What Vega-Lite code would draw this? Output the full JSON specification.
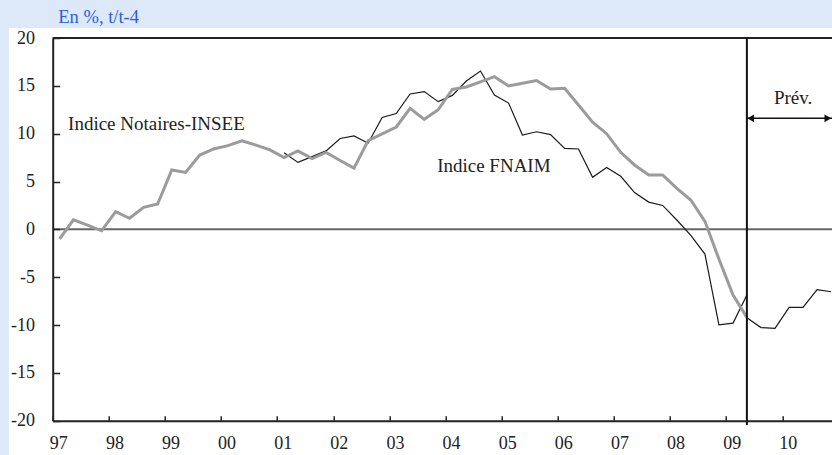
{
  "$schema": "https://vega.github.io/schema/vega-lite/v6.json",
  "width": 779.3,
  "height": 382.7,
  "autosize": {"type": "none"},
  "padding": {"left": 52.7, "top": 38, "right": 0, "bottom": 34.3},
  "background": "#dde9f8",
  "config": {"view": {"stroke": null}, "font": "Liberation Serif"},
  "title": {"text": "En %, t/t-4", "anchor": "start", "frame": "group", "dx": 5.6, "offset": 1, "font": "Liberation Serif", "fontSize": 18.5, "fontWeight": "normal", "color": "#2b5fd8"},
  "data": {"values": [
    {"date": "1997-02-15", "serie": "Notaires-INSEE", "valeur": -1.0},
    {"date": "1997-05-16", "serie": "Notaires-INSEE", "valeur": 1.0},
    {"date": "1997-08-16", "serie": "Notaires-INSEE", "valeur": 0.45},
    {"date": "1997-11-15", "serie": "Notaires-INSEE", "valeur": -0.15},
    {"date": "1998-02-15", "serie": "Notaires-INSEE", "valeur": 1.85},
    {"date": "1998-05-16", "serie": "Notaires-INSEE", "valeur": 1.16},
    {"date": "1998-08-16", "serie": "Notaires-INSEE", "valeur": 2.3},
    {"date": "1998-11-15", "serie": "Notaires-INSEE", "valeur": 2.65},
    {"date": "1999-02-15", "serie": "Notaires-INSEE", "valeur": 6.2},
    {"date": "1999-05-16", "serie": "Notaires-INSEE", "valeur": 5.95},
    {"date": "1999-08-16", "serie": "Notaires-INSEE", "valeur": 7.77},
    {"date": "1999-11-15", "serie": "Notaires-INSEE", "valeur": 8.4},
    {"date": "2000-02-15", "serie": "Notaires-INSEE", "valeur": 8.75},
    {"date": "2000-05-16", "serie": "Notaires-INSEE", "valeur": 9.25},
    {"date": "2000-08-16", "serie": "Notaires-INSEE", "valeur": 8.8},
    {"date": "2000-11-15", "serie": "Notaires-INSEE", "valeur": 8.3},
    {"date": "2001-02-15", "serie": "Notaires-INSEE", "valeur": 7.5},
    {"date": "2001-05-16", "serie": "Notaires-INSEE", "valeur": 8.2},
    {"date": "2001-08-16", "serie": "Notaires-INSEE", "valeur": 7.4},
    {"date": "2001-11-15", "serie": "Notaires-INSEE", "valeur": 8.05},
    {"date": "2002-02-15", "serie": "Notaires-INSEE", "valeur": 7.2},
    {"date": "2002-05-16", "serie": "Notaires-INSEE", "valeur": 6.4},
    {"date": "2002-08-16", "serie": "Notaires-INSEE", "valeur": 9.27},
    {"date": "2002-11-15", "serie": "Notaires-INSEE", "valeur": 9.97},
    {"date": "2003-02-15", "serie": "Notaires-INSEE", "valeur": 10.7},
    {"date": "2003-05-16", "serie": "Notaires-INSEE", "valeur": 12.65},
    {"date": "2003-08-16", "serie": "Notaires-INSEE", "valeur": 11.5},
    {"date": "2003-11-15", "serie": "Notaires-INSEE", "valeur": 12.5},
    {"date": "2004-02-15", "serie": "Notaires-INSEE", "valeur": 14.62},
    {"date": "2004-05-16", "serie": "Notaires-INSEE", "valeur": 14.88},
    {"date": "2004-08-16", "serie": "Notaires-INSEE", "valeur": 15.42},
    {"date": "2004-11-15", "serie": "Notaires-INSEE", "valeur": 15.96},
    {"date": "2005-02-15", "serie": "Notaires-INSEE", "valeur": 14.98},
    {"date": "2005-05-16", "serie": "Notaires-INSEE", "valeur": 15.28},
    {"date": "2005-08-16", "serie": "Notaires-INSEE", "valeur": 15.55},
    {"date": "2005-11-15", "serie": "Notaires-INSEE", "valeur": 14.67},
    {"date": "2006-02-15", "serie": "Notaires-INSEE", "valeur": 14.74},
    {"date": "2006-05-16", "serie": "Notaires-INSEE", "valeur": 13.0},
    {"date": "2006-08-16", "serie": "Notaires-INSEE", "valeur": 11.2},
    {"date": "2006-11-15", "serie": "Notaires-INSEE", "valeur": 10.0},
    {"date": "2007-02-15", "serie": "Notaires-INSEE", "valeur": 8.05},
    {"date": "2007-05-16", "serie": "Notaires-INSEE", "valeur": 6.73},
    {"date": "2007-08-16", "serie": "Notaires-INSEE", "valeur": 5.68},
    {"date": "2007-11-15", "serie": "Notaires-INSEE", "valeur": 5.68},
    {"date": "2008-02-15", "serie": "Notaires-INSEE", "valeur": 4.29},
    {"date": "2008-05-16", "serie": "Notaires-INSEE", "valeur": 3.07},
    {"date": "2008-08-16", "serie": "Notaires-INSEE", "valeur": 0.84},
    {"date": "2008-11-15", "serie": "Notaires-INSEE", "valeur": -3.1},
    {"date": "2009-02-15", "serie": "Notaires-INSEE", "valeur": -6.86},
    {"date": "2009-05-16", "serie": "Notaires-INSEE", "valeur": -9.2},
    {"date": "2001-02-15", "serie": "FNAIM", "valeur": 8.0},
    {"date": "2001-05-16", "serie": "FNAIM", "valeur": 7.0},
    {"date": "2001-08-16", "serie": "FNAIM", "valeur": 7.6},
    {"date": "2001-11-15", "serie": "FNAIM", "valeur": 8.2},
    {"date": "2002-02-15", "serie": "FNAIM", "valeur": 9.5},
    {"date": "2002-05-16", "serie": "FNAIM", "valeur": 9.76},
    {"date": "2002-08-16", "serie": "FNAIM", "valeur": 9.0},
    {"date": "2002-11-15", "serie": "FNAIM", "valeur": 11.7},
    {"date": "2003-02-15", "serie": "FNAIM", "valeur": 12.1},
    {"date": "2003-05-16", "serie": "FNAIM", "valeur": 14.15},
    {"date": "2003-08-16", "serie": "FNAIM", "valeur": 14.4},
    {"date": "2003-11-15", "serie": "FNAIM", "valeur": 13.35},
    {"date": "2004-02-15", "serie": "FNAIM", "valeur": 14.0},
    {"date": "2004-05-16", "serie": "FNAIM", "valeur": 15.5},
    {"date": "2004-08-16", "serie": "FNAIM", "valeur": 16.55},
    {"date": "2004-11-15", "serie": "FNAIM", "valeur": 14.04},
    {"date": "2005-02-15", "serie": "FNAIM", "valeur": 13.2},
    {"date": "2005-05-16", "serie": "FNAIM", "valeur": 9.86},
    {"date": "2005-08-16", "serie": "FNAIM", "valeur": 10.2},
    {"date": "2005-11-15", "serie": "FNAIM", "valeur": 9.9},
    {"date": "2006-02-15", "serie": "FNAIM", "valeur": 8.47},
    {"date": "2006-05-16", "serie": "FNAIM", "valeur": 8.4},
    {"date": "2006-08-16", "serie": "FNAIM", "valeur": 5.44},
    {"date": "2006-11-15", "serie": "FNAIM", "valeur": 6.47},
    {"date": "2007-02-15", "serie": "FNAIM", "valeur": 5.55},
    {"date": "2007-05-16", "serie": "FNAIM", "valeur": 3.85},
    {"date": "2007-08-16", "serie": "FNAIM", "valeur": 2.85},
    {"date": "2007-11-15", "serie": "FNAIM", "valeur": 2.5},
    {"date": "2008-02-15", "serie": "FNAIM", "valeur": 0.98},
    {"date": "2008-05-16", "serie": "FNAIM", "valeur": -0.63},
    {"date": "2008-08-16", "serie": "FNAIM", "valeur": -2.58},
    {"date": "2008-11-15", "serie": "FNAIM", "valeur": -9.99},
    {"date": "2009-02-15", "serie": "FNAIM", "valeur": -9.8},
    {"date": "2009-05-16", "serie": "FNAIM", "valeur": -6.86},
    {"date": "2009-05-16", "serie": "Prévision", "valeur": -9.25},
    {"date": "2009-08-16", "serie": "Prévision", "valeur": -10.27},
    {"date": "2009-11-15", "serie": "Prévision", "valeur": -10.35},
    {"date": "2010-02-15", "serie": "Prévision", "valeur": -8.16},
    {"date": "2010-05-16", "serie": "Prévision", "valeur": -8.16},
    {"date": "2010-08-16", "serie": "Prévision", "valeur": -6.3},
    {"date": "2010-11-15", "serie": "Prévision", "valeur": -6.52}
  ]},
  "layer": [
    {
      "data": {"values": [{}]},
      "mark": {"type": "rect", "color": "#ffffff"},
      "encoding": {
        "x": {"datum": {"year": 1996, "month": 3, "date": 22}, "type": "temporal"},
        "x2": {"datum": {"year": 2010, "month": 11, "date": 21}},
        "y": {"datum": 21.05, "type": "quantitative"},
        "y2": {"datum": -23.6}
      }
    },
    {
      "data": {"values": [{}]},
      "mark": {"type": "rule", "color": "#222222", "strokeWidth": 2},
      "encoding": {"y": {"datum": 20, "type": "quantitative"}}
    },
    {
      "data": {"values": [{}]},
      "mark": {"type": "rule", "color": "#666666", "strokeWidth": 2},
      "encoding": {"y": {"datum": 0, "type": "quantitative"}}
    },
    {
      "transform": [{"filter": "datum.serie !== 'Notaires-INSEE'"}],
      "mark": {"type": "line", "color": "#1a1a1a", "strokeWidth": 1.2},
      "encoding": {
        "x": {"field": "date", "type": "temporal", "title": null,
          "scale": {"domain": [{"year": 1997, "month": 1, "date": 1}, {"year": 2010, "month": 11, "date": 21}], "nice": false},
          "axis": {"tickCount": {"interval": "year", "step": 1}, "format": "%y", "labelOffset": 5.6, "tickSize": -5, "labelPadding": 27.6, "labelBaseline": "middle", "labelFlush": false, "labelOverlap": false, "domainColor": "#222222", "domainWidth": 2, "tickColor": "#222222", "tickWidth": 1.5, "labelFont": "Liberation Serif", "labelFontSize": 18, "labelColor": "#222222", "grid": false, "zindex": 2}},
        "y": {"field": "valeur", "type": "quantitative", "title": null,
          "scale": {"domain": [-20, 20], "nice": false, "zero": false},
          "axis": {"values": [-20, -15, -10, -5, 0, 5, 10, 15, 20], "labelExpr": "toString(datum.value)", "tickSize": -7, "labelPadding": 25.2, "domainColor": "#222222", "domainWidth": 2, "tickColor": "#222222", "tickWidth": 1.5, "labelFont": "Liberation Serif", "labelFontSize": 18, "labelColor": "#222222", "grid": false, "zindex": 2}},
        "detail": {"field": "serie"}
      }
    },
    {
      "transform": [{"filter": "datum.serie === 'Notaires-INSEE'"}],
      "mark": {"type": "line", "color": "#9b9b9b", "strokeWidth": 3},
      "encoding": {
        "x": {"field": "date", "type": "temporal", "title": null},
        "y": {"field": "valeur", "type": "quantitative", "title": null}
      }
    },
    {
      "data": {"values": [{}]},
      "mark": {"type": "rule", "color": "#111111", "strokeWidth": 2},
      "encoding": {
        "x": {"datum": {"year": 2009, "month": 5, "date": 16}, "type": "temporal"},
        "y": {"datum": 20, "type": "quantitative"},
        "y2": {"datum": -20.45}
      }
    },
    {
      "data": {"values": [{}]},
      "mark": {"type": "rule", "color": "#111111", "strokeWidth": 1.5},
      "encoding": {
        "x": {"datum": {"year": 2009, "month": 5, "date": 16}, "type": "temporal"},
        "x2": {"datum": {"year": 2010, "month": 11, "date": 21}},
        "y": {"datum": 11.6, "type": "quantitative"}
      }
    },
    {
      "data": {"values": [{}]},
      "mark": {"type": "point", "shape": "triangle-left", "filled": true, "color": "#111111", "size": 60, "opacity": 1},
      "encoding": {
        "x": {"datum": {"year": 2009, "month": 6, "date": 10}, "type": "temporal"},
        "y": {"datum": 11.6, "type": "quantitative"}
      }
    },
    {
      "data": {"values": [{}]},
      "mark": {"type": "point", "shape": "triangle-right", "filled": true, "color": "#111111", "size": 60, "opacity": 1},
      "encoding": {
        "x": {"datum": {"year": 2010, "month": 10, "date": 25}, "type": "temporal"},
        "y": {"datum": 11.6, "type": "quantitative"}
      }
    },
    {
      "data": {"values": [{}]},
      "mark": {"type": "text", "align": "center", "baseline": "middle", "font": "Liberation Serif", "fontSize": 19, "color": "#222222"},
      "encoding": {
        "x": {"datum": {"year": 2010, "month": 3, "date": 13}, "type": "temporal"},
        "y": {"datum": 13.75, "type": "quantitative"},
        "text": {"value": "Prév."}
      }
    },
    {
      "data": {"values": [{}]},
      "mark": {"type": "text", "align": "left", "baseline": "middle", "font": "Liberation Serif", "fontSize": 19, "color": "#222222"},
      "encoding": {
        "x": {"datum": {"year": 1997, "month": 4, "date": 11}, "type": "temporal"},
        "y": {"datum": 11.0, "type": "quantitative"},
        "text": {"value": "Indice Notaires-INSEE"}
      }
    },
    {
      "data": {"values": [{}]},
      "mark": {"type": "text", "align": "left", "baseline": "middle", "font": "Liberation Serif", "fontSize": 19, "color": "#222222"},
      "encoding": {
        "x": {"datum": {"year": 2003, "month": 11, "date": 8}, "type": "temporal"},
        "y": {"datum": 6.6, "type": "quantitative"},
        "text": {"value": "Indice FNAIM"}
      }
    }
  ]
}
